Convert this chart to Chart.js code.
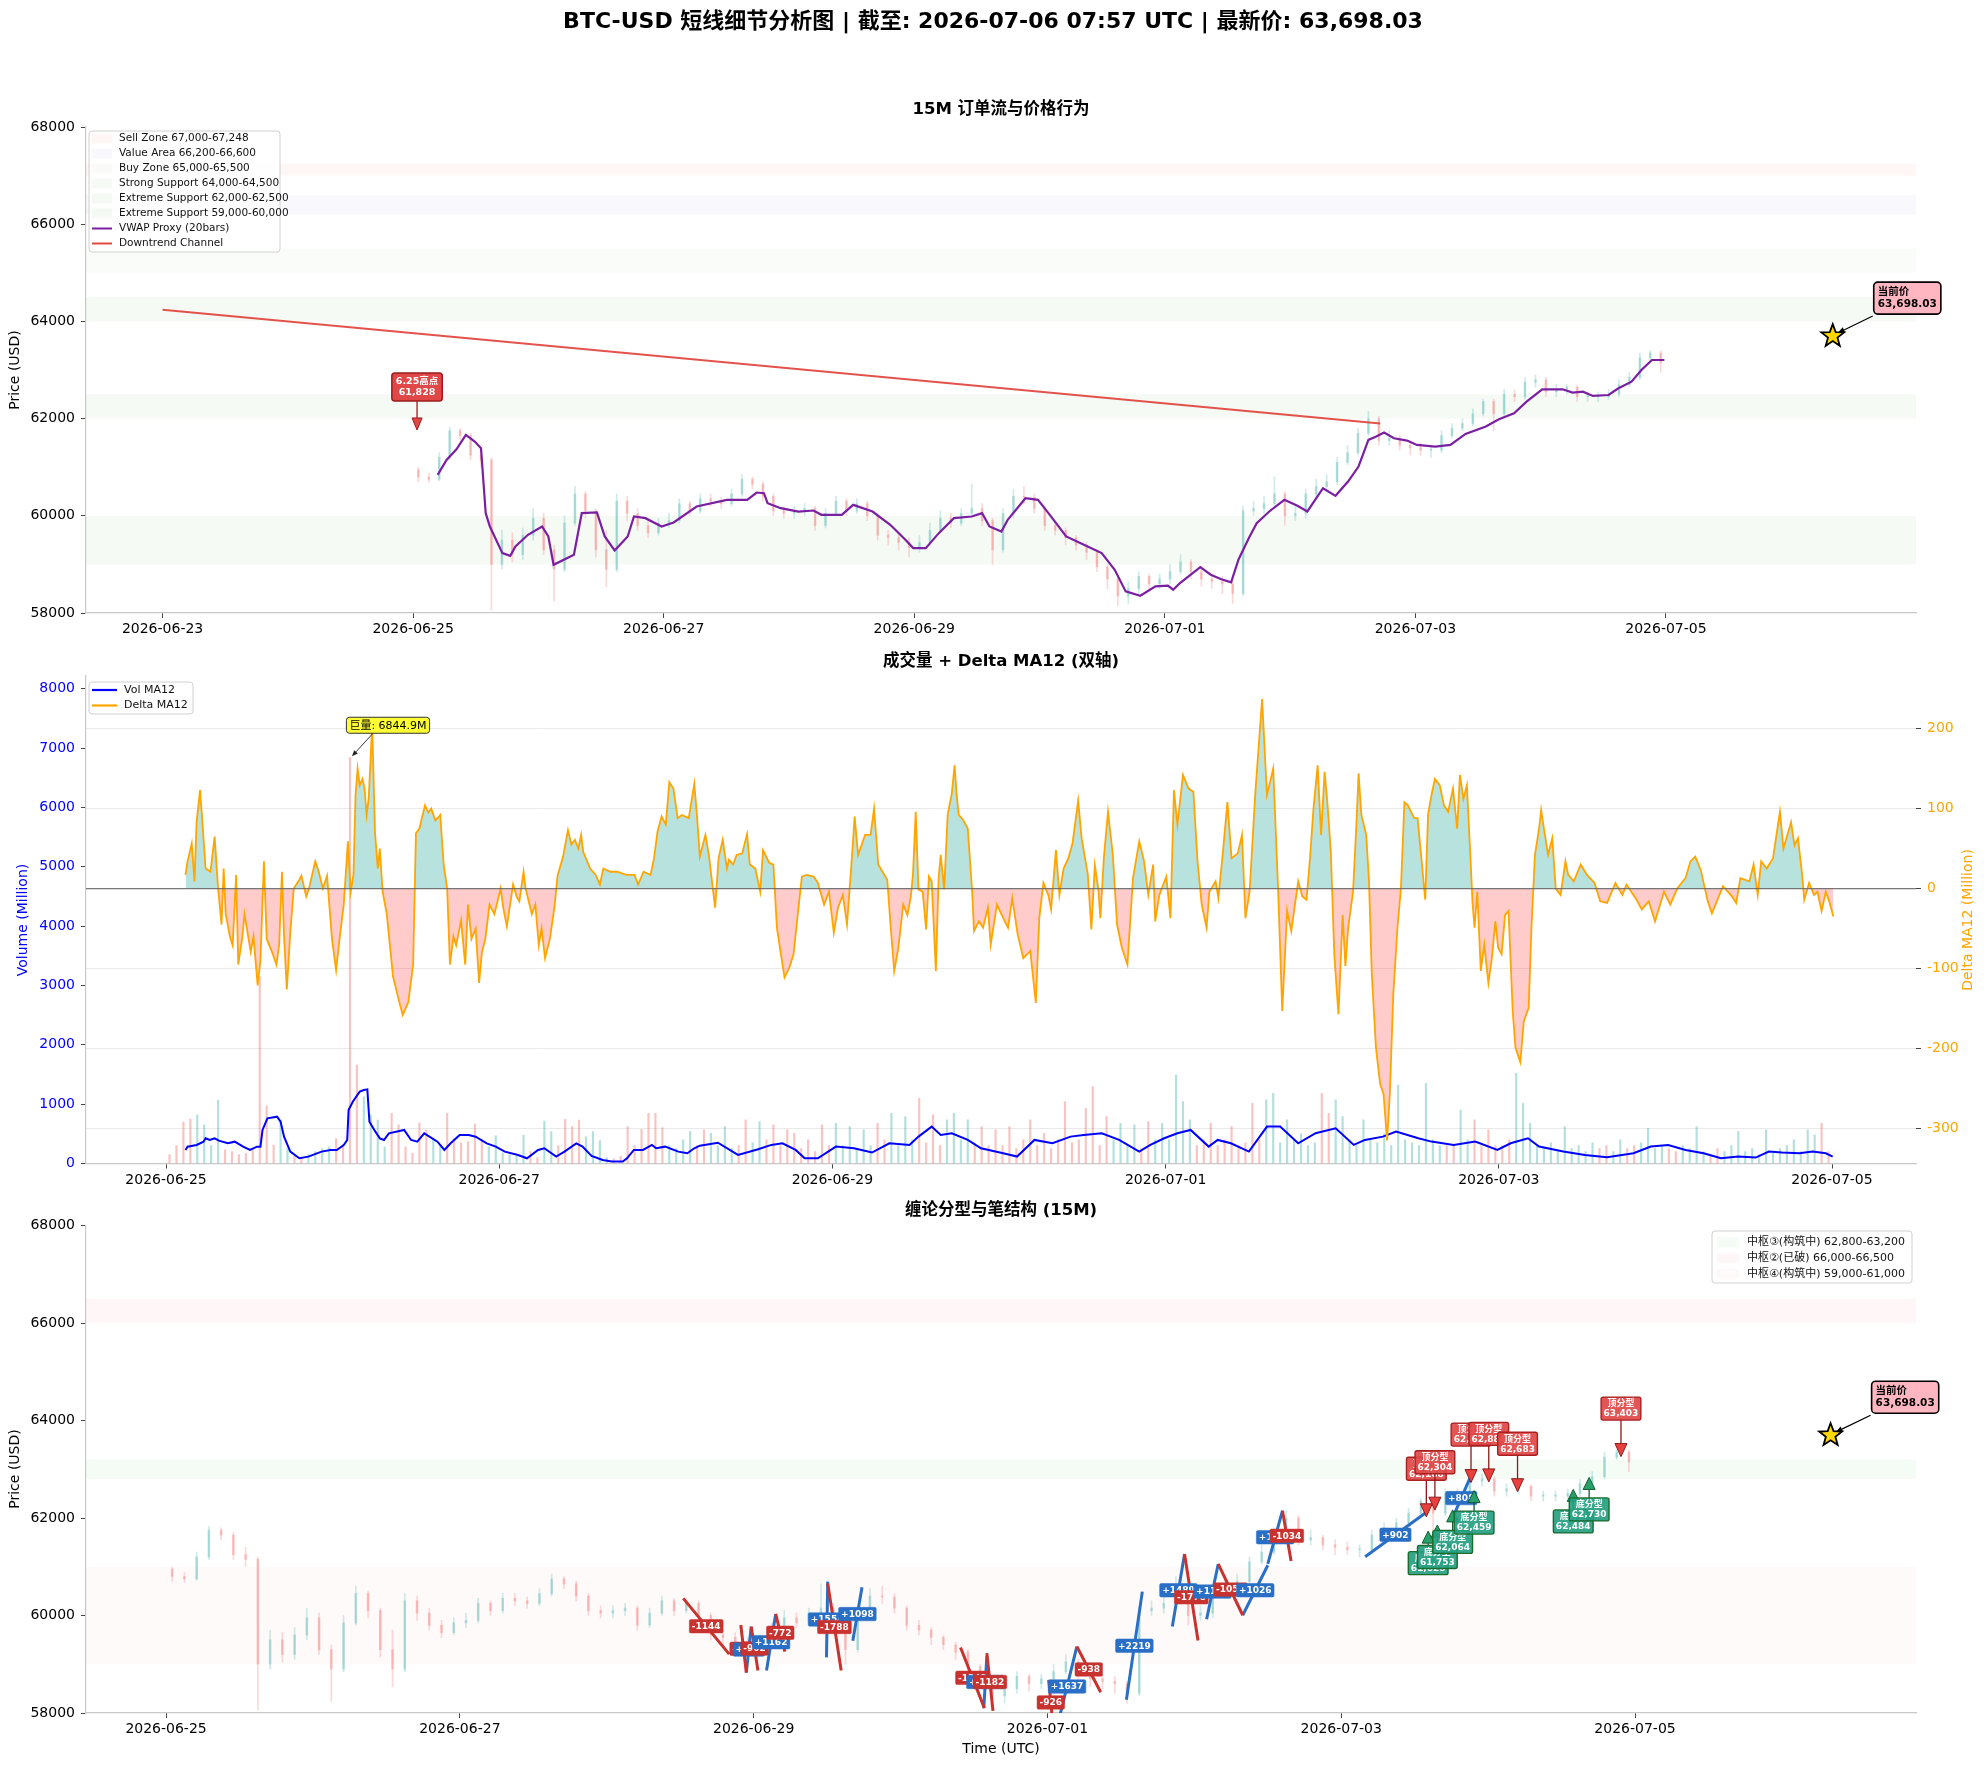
<!DOCTYPE html>
<html><head><meta charset="utf-8">
<script src="https://cdn.jsdelivr.net/npm/chart.js@4.4.1/dist/chart.umd.min.js"></script>
<style>
html,body{margin:0;padding:0;background:#fff;}
#wrap{position:relative;width:1987px;height:1767px;background:#fff;}
canvas{position:absolute;left:0;top:0;}
</style></head><body><div id="wrap">
<canvas id="c1" width="1987" height="1767"></canvas>
<canvas id="c2" width="1987" height="1767"></canvas>
<canvas id="c3" width="1987" height="1767"></canvas>
</div>
<script>
// ===================== DATA (x = hours since 2026-06-25 00:00 UTC) =====================
const mainTitle = 'BTC-USD 短线细节分析图 | 截至: 2026-07-06 07:57 UTC | 最新价: 63,698.03';
const panelTitles = ['15M 订单流与价格行为', '成交量 + Delta MA12 (双轴)', '缠论分型与笔结构 (15M)'];

const dateTickHours1 = [-48, 0, 48, 96, 144, 192, 240];
const dateTickLabels1 = ['2026-06-23','2026-06-25','2026-06-27','2026-06-29','2026-07-01','2026-07-03','2026-07-05'];
const dateTickHours2 = [0, 48, 96, 144, 192, 240];
const dateTickLabels2 = ['2026-06-25','2026-06-27','2026-06-29','2026-07-01','2026-07-03','2026-07-05'];
const priceTicks = [58000, 60000, 62000, 64000, 66000, 68000];
const volTicks = [0, 1000, 2000, 3000, 4000, 5000, 6000, 7000, 8000];
const deltaTicks = [-300, -200, -100, 0, 100, 200];

// 2-hour candles (bar i covers hours 2i..2i+2); open = previous close
const firstOpen = 60950;
const candleClose = [60800,60750,61200,61750,61650,61250,61150,59000,59500,59200,
 59600,59950,59300,58900,59850,60450,60100,59300,58900,60300,
 60050,59800,59650,59850,59900,60250,60100,60350,60300,60250,
 60450,60750,60650,60400,60100,60050,60100,60150,59800,60050,
 60300,60100,60250,60000,59600,59550,59450,59350,59450,59700,
 59950,59850,60050,60150,59900,59300,60050,60400,60380,60150,
 59800,59700,59550,59400,59250,58950,58700,58350,58500,58750,
 58600,58700,58850,59050,58850,58700,58650,58600,58400,60100,
 60150,60250,60450,60000,60050,60450,60600,60700,61100,61300,
 61700,62000,61550,61600,61450,61400,61350,61350,61650,61800,
 61900,62100,62350,62100,62500,62450,62750,62800,62550,62600,
 62650,62450,62450,62450,62500,62700,62850,63250,63350,63150];
const candleHigh = [61000,60880,61300,61828,61800,61700,61400,61200,59700,59650,
 59750,60150,60050,59400,60000,60600,60500,60150,59700,60450,
 60400,60150,59900,59950,60050,60350,60300,60450,60450,60380,
 60550,60850,60800,60700,60450,60200,60200,60250,60200,60150,
 60400,60350,60353,60300,60050,59700,59650,59550,59600,59850,
 60100,60050,60150,60650,60250,59950,60150,60550,60600,60450,
 60200,59900,59750,59600,59450,59300,59000,58750,58650,58850,
 58800,58800,59000,59200,59100,58900,58800,58750,58650,60200,
 60300,60400,60800,60500,60200,60550,60750,60850,61200,61450,
 61800,62150,62050,61750,61650,61550,61500,61450,61750,61900,
 62000,62200,62400,62400,62600,62600,62850,62900,62850,62700,
 62700,62680,62550,62550,62600,62800,62950,63350,63403,63400];
const candleLow = [60700,60680,60720,61150,61550,61150,61000,58060,58900,59050,
 59100,59500,59200,58240,58850,59800,59950,59150,58540,58850,
 59900,59700,59550,59600,59750,59850,60000,60050,60200,60150,
 60200,60400,60550,60300,60000,59950,59950,60000,59700,59750,
 60000,60000,60050,59900,59500,59400,59300,59150,59250,59400,
 59650,59750,59800,60000,59800,59000,59250,59950,60250,60050,
 59700,59600,59400,59300,59100,58850,58500,58150,58200,58400,
 58450,58500,58600,58800,58700,58550,58500,58400,58200,58350,
 60000,60050,60200,59800,59900,59950,60350,60500,60650,61050,
 61250,61650,61450,61450,61350,61250,61250,61200,61300,61600,
 61750,61850,62050,61750,62050,62350,62400,62650,62450,62450,
 62500,62350,62350,62350,62400,62450,62650,62800,63200,62950];

// VWAP proxy (20 bars)
const vwapHours = [4.7,6.4,8.3,10.1,11.8,13.0,13.9,14.7,17.1,18.6,19.6,22.0,24.7,25.9,26.9,30.8,32.3,35.2,36.7,38.6,41.1,42.3,44.5,47.6,49.9,54.3,60.1,64.0,65.8,67.2,67.9,70.4,73.8,76.7,78.2,82.1,84.3,88.0,91.4,94.3,95.8,98.2,100.7,103.6,107.0,109.0,110.4,112.7,113.9,117.3,119.7,121.7,125.1,128.5,131.9,134.4,136.5,139.3,142.2,144.6,145.6,146.9,150.8,152.8,154.7,156.7,158.1,160.1,161.6,164.0,166.9,169.4,171.3,174.3,176.7,179.1,181.1,183.0,184.5,186.0,187.9,190.4,192.3,195.8,198.7,201.6,205.5,208.0,210.9,213.3,216.3,220.2,222.1,224.1,226.0,229.0,230.9,233.4,235.3,237.3,239.7];
const vwapValues = [60842,61150,61369,61664,61527,61390,60054,59780,59232,59177,59369,59609,59780,59575,58992,59198,60054,60068,59575,59287,59575,59986,59951,59780,59862,60191,60328,60328,60479,60465,60260,60157,60088,60109,60020,60020,60225,60088,59814,59506,59335,59335,59643,59951,59986,60054,59780,59677,59917,60362,60328,60054,59575,59403,59232,58890,58444,58355,58547,58561,58479,58616,58945,58787,58698,58630,59096,59541,59849,60089,60328,60205,60089,60568,60411,60705,61014,61562,61630,61712,61596,61548,61459,61425,61459,61685,61836,61986,62110,62349,62603,62603,62534,62555,62466,62486,62623,62760,63000,63206,63206];

// Downtrend channel
const channelHours = [-48, 185.25];
const channelValues = [64240, 61900];

// Zones panel 1
const zone1Labels = ['Sell Zone 67,000-67,248','Value Area 66,200-66,600','Buy Zone 65,000-65,500','Strong Support 64,000-64,500','Extreme Support 62,000-62,500','Extreme Support 59,000-60,000'];
const zone1Lo = [67000, 66200, 65000, 64000, 62000, 59000];
const zone1Hi = [67248, 66600, 65500, 64500, 62500, 60000];

// Annotations
const highLabelHour = 0.75, highLabelPrice = 61828, highLabelText = ['6.25高点', '61,828'];
const nowHour = 271.95, lastPrice = 63698.03, nowText = ['当前价', '63,698.03'];
const bigVolHour = 26.5, bigVolValue = 6844.9, bigVolText = '巨量: 6844.9M';

// Hourly volume (Million), bar i covers hour i..i+1
const volume = [
 150,300,700,750,820,650,300,1070,230,200,150,170,230,3150,970,310,730,250,120,100,150,200,250,280,
 420,320,6845,1660,1125,820,730,280,845,650,280,170,680,565,424,300,845,424,350,368,666,400,280,465,
 180,150,120,480,200,100,716,537,300,744,620,733,450,537,385,100,80,120,620,300,575,845,845,604,
 300,250,400,537,300,566,510,300,622,250,300,734,350,706,400,650,300,566,510,250,397,200,650,300,
 678,300,622,250,566,300,678,400,846,300,790,400,1099,350,818,300,734,846,400,734,350,622,300,566,
 300,622,250,400,734,300,510,250,400,1043,350,400,931,1295,300,790,400,678,300,650,250,706,400,678,
 400,1491,1043,734,300,400,678,300,400,622,300,350,1015,400,1071,1183,350,734,400,500,300,350,1183,846,
 1071,790,400,300,734,400,350,500,300,1323,400,350,300,1351,400,300,300,300,902,400,734,300,566,300,
 300,400,1520,1015,678,300,250,350,200,622,250,300,200,350,250,300,200,400,250,300,350,594,250,300,
 250,200,300,250,622,200,150,250,200,300,538,200,250,150,566,200,250,300,397,200,566,482,678,200];

// Vol MA12
const volMaHours = [2.8,3.1,4.4,5.4,5.7,6.3,7.0,7.6,8.9,9.9,11.1,12.1,13.1,13.6,13.9,14.6,16.0,16.5,17.0,17.9,19.2,20.5,22.4,23.7,24.6,25.6,26.1,26.3,26.9,27.9,28.5,29.0,29.3,30.0,30.8,31.4,32.1,34.3,35.3,36.2,37.2,39.1,40.1,41.0,42.3,43.6,44.6,46.2,47.5,48.8,50.7,52.0,53.6,54.5,56.2,57.4,59.1,60.0,61.3,62.9,64.2,65.8,66.4,67.4,68.7,70.0,70.6,71.9,73.8,75.1,76.1,76.9,79.5,82.4,85.3,87.2,88.8,90.7,92.0,93.9,96.5,99.1,101.7,104.2,107.1,108.4,110.3,111.6,113.2,115.5,117.4,120.6,122.6,125.1,127.7,130.3,132.2,134.8,137.3,140.2,141.8,143.8,145.7,147.6,150.2,151.5,153.4,156.0,158.6,160.5,163.1,165.6,168.5,171.1,172.7,175.3,177.2,180.4,182.3,185.5,188.6,191.8,193.7,196.2,197.8,201.3,204.4,207.6,211.4,213.9,216.4,218.9,221.5,224.0,226.5,229.0,230.9,232.8,235.3,237.2,239.1,240.1];
const volMaValues = [228,284,312,368,424,396,424,385,340,368,284,228,284,284,565,761,789,705,452,200,88,116,200,228,228,312,396,901,1041,1210,1238,1249,705,565,424,396,508,565,396,368,508,368,228,340,480,480,452,340,284,200,144,88,228,256,116,200,340,284,127,60,32,32,88,228,228,312,256,284,200,172,256,300,350,145,241,313,341,229,89,89,285,257,185,341,313,453,622,482,510,397,257,173,117,397,341,453,482,510,397,201,313,425,510,566,285,397,341,201,622,622,341,510,594,313,397,453,538,425,369,313,369,229,341,425,285,201,145,106,173,285,313,229,173,89,117,100,201,185,173,201,173,117];

// Delta MA12
const deltaHours = [2.8,3.1,3.7,4.1,4.4,4.9,5.2,5.7,6.4,7.0,7.5,8.0,8.3,8.6,9.2,9.6,10.1,10.4,11.0,11.3,12.2,12.6,13.2,13.6,14.1,14.5,15.3,15.9,16.3,16.7,17.0,17.4,17.9,18.4,19.2,19.5,20.2,20.6,21.5,22.0,22.6,23.2,23.9,24.5,25.0,25.6,26.2,26.6,27.0,27.3,27.6,27.9,28.3,28.6,28.9,29.2,29.7,30.1,30.5,30.8,31.2,31.8,32.7,33.6,34.1,34.9,35.6,36.0,36.5,37.3,37.8,38.2,38.8,39.5,40.0,40.5,40.9,41.4,41.8,42.5,43.1,43.5,44.0,44.6,45.1,45.5,46.0,46.6,47.3,48.2,48.6,49.1,50.0,50.5,50.9,51.5,51.8,52.7,53.2,53.7,54.1,54.6,55.3,56.0,56.4,57.2,57.9,58.4,58.9,59.4,59.8,60.1,61.1,61.9,62.5,63.0,64.0,65.0,66.3,67.5,68.0,68.8,69.8,70.3,70.8,71.4,72.0,72.5,73.1,73.7,74.3,75.3,76.1,76.5,76.9,77.7,78.2,79.1,79.6,80.2,80.8,81.1,81.7,82.2,83.0,83.7,84.1,84.9,85.6,86.0,86.9,87.5,88.0,88.5,89.1,89.8,90.4,90.9,91.6,92.3,93.3,93.9,94.8,95.5,96.2,96.8,97.5,98.1,98.8,99.2,99.7,100.7,101.5,102.0,102.6,103.9,104.4,104.9,105.5,106.2,106.8,107.3,107.6,108.0,108.4,109.0,109.5,109.9,110.3,110.9,111.3,111.6,112.1,112.6,113.2,113.6,113.9,114.2,114.8,115.5,116.1,116.4,117.1,117.7,118.4,118.8,119.7,120.6,121.3,121.9,122.7,123.5,124.5,125.3,125.8,126.4,127.1,127.5,128.2,128.7,129.3,130.0,130.6,131.4,131.9,132.8,133.3,133.8,134.3,134.6,135.1,135.7,136.4,137.0,137.7,138.5,139.3,140.2,140.9,141.5,142.2,142.5,143.1,144.1,144.7,145.2,145.7,146.5,147.3,148.0,148.6,149.2,149.9,150.3,151.2,151.6,152.3,152.9,153.5,154.4,155.0,155.5,156.1,156.9,157.9,158.6,159.5,160.2,160.8,161.5,162.1,163.1,163.7,164.3,164.8,165.3,165.9,166.4,166.9,167.3,167.8,168.3,168.9,169.5,169.9,170.3,171.0,171.5,171.8,172.2,172.9,173.3,173.7,174.3,174.9,175.4,175.9,176.3,176.8,177.4,177.9,178.4,178.9,179.8,180.3,180.8,181.4,181.8,182.3,182.8,183.5,184.1,184.7,185.4,186.0,186.4,186.9,187.4,187.9,188.2,188.5,188.9,189.4,189.9,190.5,191.0,191.5,191.9,192.4,192.9,193.4,194.0,194.4,195.1,195.6,196.3,196.7,197.2,197.8,198.1,198.5,199.1,199.7,200.2,200.9,201.6,202.0,202.8,203.8,204.7,205.8,206.6,207.6,208.8,209.8,210.4,211.7,212.6,213.6,214.5,215.8,216.7,217.7,218.9,219.6,220.3,221.1,222.1,222.7,224.3,225.6,226.2,226.8,228.1,228.7,229.3,229.8,230.6,231.5,232.5,233.0,234.1,234.6,235.1,235.7,236.0,236.7,237.4,237.9,238.5,239.1,239.6,240.2];
const deltaValues = [17,34,56,9,83,123,88,25,21,65,0,-45,25,-32,-60,-71,17,-95,-60,-32,-79,-60,-121,-90,34,-63,-80,-95,-70,21,-60,-126,-55,0,11,16,-10,0,34,21,0,16,-63,-102,-63,-20,59,-4,17,117,150,129,137,125,92,113,205,71,25,50,-4,-32,-110,-142,-158,-142,-95,69,75,104,95,100,85,92,30,0,-95,-60,-71,-40,-95,-20,-63,-50,-118,-80,-63,-20,-32,0,-25,-47,5,-10,-16,21,0,-32,-20,-71,-50,-87,-63,-20,16,40,73,55,61,50,67,46,25,17,5,25,21,21,17,17,5,21,17,38,71,90,80,133,125,88,92,88,131,90,40,67,42,-24,38,61,25,36,30,42,44,68,30,25,-4,48,32,30,-49,-78,-111,-99,-82,-41,15,17,15,7,-20,-4,-55,-24,-8,-45,38,90,42,67,67,100,30,11,-49,-103,-74,-20,-33,-10,17,96,-1,-4,-51,15,9,-103,13,42,-1,92,119,154,117,92,86,75,0,-53,-41,-49,-24,-70,-20,-37,-49,-12,-58,-87,-78,-143,-37,7,-8,-26,48,-8,25,38,57,110,63,17,-51,29,0,-37,38,96,42,-45,-74,-95,13,59,34,-8,30,-41,-8,15,-37,123,80,142,125,121,34,-20,-49,-4,9,-12,50,108,38,44,67,-37,-4,117,237,117,150,0,-153,-28,-53,9,-10,-14,38,100,154,67,146,108,46,-83,-157,-33,-97,-49,-4,83,144,92,67,9,-107,-199,-244,-257,-315,-257,-132,-49,0,108,104,88,88,42,-14,92,117,137,129,104,96,125,75,142,112,129,42,-16,-49,-4,-103,-70,-118,-87,-41,-74,-82,-33,-28,-153,-199,-217,-166,-149,-49,42,75,98,75,42,63,0,-8,34,17,9,30,17,7,-16,-18,7,-8,5,-12,-26,-16,-41,-4,-20,0,13,34,40,23,-16,-31,3,-10,-18,13,9,30,-8,34,25,38,96,50,83,54,63,17,-14,7,-8,-4,-28,-4,-16,-35];

// Zones panel 3 (中枢)
const zone3Labels = ['中枢③(构筑中) 62,800-63,200','中枢②(已破) 66,000-66,500','中枢④(构筑中) 59,000-61,000'];
const zone3Lo = [62800, 66000, 59000];
const zone3Hi = [63200, 66500, 61000];

// Pens (笔)
const penStartHour = [84.5,93.9,94.8,95.6,98.1,99.6,107.9,108.1,112.2,129.8,133.6,134.1,144.2,145.6,148.8,156.9,164.4,166.4,170.0,171.9,175.9,180.0,182.4,195.9,210.2];
const penStartPrice = [60352,59806,58829,59772,58870,60032,59141,60659,59480,59343,58100,59227,58680,57726,59363,58271,59773,61262,59923,61057,60005,61057,62151,61206,62004];
const penEndHour = [92.0,94.8,95.6,96.7,99.6,101.1,108.1,110.3,113.7,133.7,134.1,135.1,144.9,148.8,152.7,159.5,166.4,168.6,171.9,175.9,180.0,182.4,183.8,205.8,213.0];
const penEndPrice = [59208,58829,59772,58870,60032,59260,60695,58871,60578,58100,59172,58045,57754,59363,58425,60490,61262,59486,61057,60005,61031,62151,61117,62108,62812];
const penLabels = ['-1144','-977','+943','-902','+1162','-772','+1554','-1788','+1098','-1243','+1072','-1182','-926','+1637','-938','+2219','+1489','-1776','+1134','-1052','+1026','+1094','-1034','+902','+808'];

// Fractals (分型)
const topFracHours = [205.9, 207.3, 213.2, 216.1, 220.8, 237.7];
const topFracPrices = [62168, 62304, 62870, 62884, 62683, 63403];
const botFracHours = [206.2, 207.7, 210.2, 213.7, 229.9, 232.5];
const botFracPrices = [61628, 61753, 62064, 62459, 62484, 62730];

// ===================== STYLE =====================
const FONT = '"DejaVu Sans","Noto Sans CJK SC",sans-serif';
const fnt = (s, b) => (b ? 'bold ' : '') + s + 'px ' + FONT;
const W = 1987, H = 1767, LEFT = 86, RIGHT = 1916;
const UP = 'rgba(38,166,154,0.28)', DN = 'rgba(239,83,80,0.28)';
const UPW = 'rgba(38,166,154,0.22)', DNW = 'rgba(239,83,80,0.22)';
const zone1Colors = ['rgba(255,0,0,0.035)','rgba(60,60,200,0.03)','rgba(0,90,0,0.018)','rgba(0,140,0,0.04)','rgba(0,140,0,0.04)','rgba(0,140,0,0.04)'];
const zone3Colors = ['rgba(0,150,0,0.04)','rgba(255,40,40,0.04)','rgba(255,40,40,0.025)'];

function opens() { return candleClose.map((c, i) => i ? candleClose[i - 1] : firstOpen); }
const candleOpen = opens();
const candleUp = candleClose.map((c, i) => c >= candleOpen[i]);
function wickData() { return candleClose.map((c, i) => ({x: 2 * i + 1, y: [candleLow[i], candleHigh[i]]})); }
function bodyData() { return candleClose.map((c, i) => ({x: 2 * i + 1, y: [candleOpen[i], c === candleOpen[i] ? c + 20 : c]})); }
const pts = (xs, ys) => xs.map((x, i) => ({x, y: ys[i]}));

function rr(ctx, x, y, w, h, r) { ctx.beginPath(); ctx.moveTo(x + r, y); ctx.arcTo(x + w, y, x + w, y + h, r); ctx.arcTo(x + w, y + h, x, y + h, r); ctx.arcTo(x, y + h, x, y, r); ctx.arcTo(x, y, x + w, y, r); ctx.closePath(); }
function labelBox(ctx, cx, cy, lines, o) {
  ctx.save(); ctx.font = o.font; let w = 0;
  lines.forEach(l => w = Math.max(w, ctx.measureText(l).width));
  const bw = w + 2 * o.padX, bh = lines.length * o.lineH + 2 * o.padY;
  const x = o.left !== undefined ? o.left : cx - bw / 2, y = o.top !== undefined ? o.top : cy - bh / 2;
  rr(ctx, x, y, bw, bh, o.radius || 2); ctx.fillStyle = o.bg; ctx.fill();
  if (o.border) { ctx.lineWidth = o.bw || 1; ctx.strokeStyle = o.border; ctx.stroke(); }
  ctx.fillStyle = o.color; ctx.textBaseline = 'middle';
  ctx.textAlign = o.align || 'center';
  lines.forEach((l, i) => ctx.fillText(l, o.align === 'left' ? x + o.padX : x + bw / 2, y + o.padY + o.lineH * (i + 0.5) + 0.5));
  ctx.restore(); return {x, y, w: bw, h: bh};
}
function arrow(ctx, x1, y1, x2, y2, o) {
  const a = Math.atan2(y2 - y1, x2 - x1), hl = o.headLen, hw = o.headW / 2;
  const bx = x2 - hl * Math.cos(a), by = y2 - hl * Math.sin(a);
  ctx.save(); ctx.strokeStyle = o.color; ctx.lineWidth = o.lw;
  ctx.beginPath(); ctx.moveTo(x1, y1); ctx.lineTo(bx, by); ctx.stroke();
  ctx.beginPath(); ctx.moveTo(x2, y2);
  ctx.lineTo(bx + hw * Math.sin(a), by - hw * Math.cos(a)); ctx.lineTo(bx - hw * Math.sin(a), by + hw * Math.cos(a)); ctx.closePath();
  ctx.fillStyle = o.fill; ctx.fill();
  if (o.edge) { ctx.strokeStyle = o.edge; ctx.lineWidth = o.elw || 1; ctx.stroke(); }
  ctx.restore();
}
function starPath(ctx, x, y, R, r) { ctx.beginPath(); for (let i = 0; i < 10; i++) { const a = -Math.PI / 2 + i * Math.PI / 5, d = i % 2 ? r : R; ctx.lineTo(x + d * Math.cos(a), y + d * Math.sin(a)); } ctx.closePath(); }
function vtext(ctx, t, x, y, color, size) { ctx.save(); ctx.translate(x, y); ctx.rotate(-Math.PI / 2); ctx.fillStyle = color; ctx.font = fnt(size); ctx.textAlign = 'center'; ctx.textBaseline = 'middle'; ctx.fillText(t, 0, 0); ctx.restore(); }
function ctext(ctx, t, x, y, size, bold, color) { ctx.save(); ctx.font = fnt(size, bold); ctx.fillStyle = color || '#000'; ctx.textAlign = 'center'; ctx.textBaseline = 'middle'; ctx.fillText(t, x, y); ctx.restore(); }
function bands(chart, los, his, colors) {
  const {ctx, chartArea: a, scales: {y}} = chart; ctx.save();
  ctx.beginPath(); ctx.rect(a.left, a.top, a.right - a.left, a.bottom - a.top); ctx.clip();
  los.forEach((lo, i) => { const yt = y.getPixelForValue(his[i]), yb = y.getPixelForValue(lo); ctx.fillStyle = colors[i]; ctx.fillRect(a.left, yt, a.right - a.left, yb - yt); });
  ctx.restore();
}
function currentPrice(chart) {
  const {ctx, scales: {x, y}} = chart;
  const sx = x.getPixelForValue(nowHour), sy = y.getPixelForValue(lastPrice);
  arrow(ctx, sx + 40, sy - 20, sx + 5, sy - 3, {color: '#000', lw: 1.2, headLen: 7, headW: 6, fill: '#000'});
  labelBox(ctx, 0, 0, nowText, {font: fnt(10.5, true), padX: 4, padY: 4, lineH: 12, bg: '#ffb6c1', border: '#000', bw: 1.6, color: '#000', align: 'left', left: sx + 41, top: sy - 54, radius: 4});
  ctx.save(); starPath(ctx, sx, sy, 12, 5); ctx.fillStyle = '#FFD700'; ctx.fill(); ctx.lineWidth = 1.8; ctx.strokeStyle = '#000'; ctx.stroke(); ctx.restore();
}
function xScale(min, max, tickHours, tickLabels, h) {
  return {type: 'linear', min, max, offset: false,
    afterFit(s) { s.height = h; },
    afterBuildTicks(s) { s.ticks = tickHours.map(v => ({value: v})); },
    ticks: {autoSkip: false, maxRotation: 0, padding: 3, color: '#000', font: {family: FONT, size: 14},
      callback: v => { const i = tickHours.indexOf(v); return i >= 0 ? tickLabels[i] : ''; }},
    grid: {drawOnChartArea: false, offset: false, tickLength: 5, tickColor: '#444', tickWidth: 1},
    border: {display: true, color: '#c8c8c8', width: 1.2}};
}
function yScale(min, max, ticks, color, pos, width, gridColor) {
  return {type: 'linear', min, max, position: pos,
    afterFit(s) { s.width = width; },
    afterBuildTicks(s) { s.ticks = ticks.map(v => ({value: v})); },
    ticks: {padding: 6, color, font: {family: FONT, size: 14}, callback: v => String(v)},
    grid: {drawOnChartArea: !!gridColor, color: gridColor || 'rgba(0,0,0,0)', tickLength: 5, tickColor: '#444', drawTicks: true},
    border: {display: pos === 'left', color: '#c8c8c8', width: 1.2}};
}
const baseOpts = {responsive: false, maintainAspectRatio: false, animation: false, devicePixelRatio: 1,
  plugins: {legend: {display: false}, tooltip: {enabled: false}}, events: []};
function candleSets() {
  return [
    {type: 'bar', data: wickData(), backgroundColor: candleUp.map(u => u ? UPW : DNW), barThickness: 1, grouped: false, borderWidth: 0, order: 20},
    {type: 'bar', data: bodyData(), backgroundColor: candleUp.map(u => u ? UP : DN), barThickness: 2, grouped: false, borderWidth: 0, order: 19}];
}

// ===================== CHART 1 =====================
const p1Plugin = {id: 'p1',
  beforeDatasetsDraw(chart) { bands(chart, zone1Lo, zone1Hi, zone1Colors); },
  afterDraw(chart) {
    const {ctx, scales: {x, y}} = chart;
    ctext(ctx, mainTitle, 993, 22, 22, true);
    ctext(ctx, panelTitles[0], 1001, 110, 16.5, true);
    vtext(ctx, 'Price (USD)', 15, 370, '#000', 14);
    ctx.save(); rr(ctx, 89, 131, 191, 121, 3); ctx.fillStyle = 'rgba(255,255,255,0.85)'; ctx.fill(); ctx.strokeStyle = '#d0d0d0'; ctx.lineWidth = 1; ctx.stroke();
    ctx.font = fnt(10.5); ctx.textBaseline = 'middle'; ctx.textAlign = 'left';
    const legItems = zone1Labels.concat(['VWAP Proxy (20bars)', 'Downtrend Channel']);
    legItems.forEach((t, i) => {
      const yy = 138.5 + i * 15;
      if (i < 6) { ctx.fillStyle = zone1Colors[i]; ctx.fillRect(92, yy - 5, 20, 10); }
      else { ctx.strokeStyle = i === 6 ? '#7b1fa2' : '#e04a3f'; ctx.lineWidth = 2; ctx.beginPath(); ctx.moveTo(92, yy); ctx.lineTo(112, yy); ctx.stroke(); }
      ctx.fillStyle = '#111'; ctx.fillText(t, 119, yy);
    });
    ctx.restore();
    const hx = x.getPixelForValue(highLabelHour), hy = y.getPixelForValue(highLabelPrice);
    arrow(ctx, hx, hy - 26, hx, hy + 3, {color: '#9b1c1c', lw: 1.3, headLen: 12, headW: 10, fill: '#e04848', edge: '#9b1c1c', elw: 1});
    labelBox(ctx, hx, hy - 40, highLabelText, {font: fnt(9.5, true), padX: 4, padY: 3, lineH: 11, bg: '#e04848', border: '#9b1c1c', bw: 1.5, color: '#fff', radius: 3});
    currentPrice(chart);
  }};
new Chart(document.getElementById('c1'), {
  type: 'line',
  data: {datasets: [
    ...candleSets(),
    {type: 'line', data: pts(vwapHours, vwapValues), borderColor: '#7b1fa2', borderWidth: 2.2, pointRadius: 0, tension: 0, order: 2},
    {type: 'line', data: pts(channelHours, channelValues), borderColor: 'rgba(224,64,56,0.9)', borderWidth: 2, pointRadius: 0, order: 1}]},
  options: {...baseOpts,
    layout: {padding: {top: 127, bottom: H - 613 - 37, left: 0, right: W - RIGHT}},
    scales: {x: xScale(-62.67, 287.9, dateTickHours1, dateTickLabels1, 37), y: yScale(58000, 68000, priceTicks, '#000', 'left', LEFT)}},
  plugins: [p1Plugin]});

// ===================== CHART 2 =====================
const p2Plugin = {id: 'p2',
  afterDatasetsDraw(chart) {
    const {ctx, chartArea: a, scales: {yd}} = chart;
    const y0 = yd.getPixelForValue(0);
    ctx.save(); ctx.strokeStyle = 'rgba(100,100,100,0.85)'; ctx.lineWidth = 1.2; ctx.beginPath(); ctx.moveTo(a.left, y0); ctx.lineTo(a.right, y0); ctx.stroke(); ctx.restore();
  },
  afterDraw(chart) {
    const {ctx, scales: {x, yv}} = chart;
    ctext(ctx, panelTitles[1], 1001, 661.5, 16.5, true);
    vtext(ctx, 'Volume (Million)', 23, 920, '#0000ff', 14);
    vtext(ctx, 'Delta MA12 (Million)', 1968, 920, '#FFA500', 14);
    ctx.save(); rr(ctx, 89, 682, 104, 32, 3); ctx.fillStyle = 'rgba(255,255,255,0.85)'; ctx.fill(); ctx.strokeStyle = '#d0d0d0'; ctx.lineWidth = 1; ctx.stroke();
    ctx.font = fnt(11); ctx.textBaseline = 'middle'; ctx.textAlign = 'left';
    [['Vol MA12', '#0000ff'], ['Delta MA12', '#FFA500']].forEach((e, i) => { const yy = 690 + i * 15.5; ctx.strokeStyle = e[1]; ctx.lineWidth = 2.2; ctx.beginPath(); ctx.moveTo(92, yy); ctx.lineTo(117, yy); ctx.stroke(); ctx.fillStyle = '#111'; ctx.fillText(e[0], 124, yy); });
    ctx.restore();
    const bx = x.getPixelForValue(bigVolHour), by = yv.getPixelForValue(bigVolValue);
    arrow(ctx, bx + 23, by - 24, bx + 2, by - 1, {color: '#222', lw: 0.9, headLen: 6, headW: 5, fill: '#222'});
    labelBox(ctx, bx + 38, by - 32, [bigVolText], {font: fnt(11), padX: 3, padY: 2, lineH: 12, bg: '#ffff33', border: '#333', bw: 1, color: '#000', radius: 3});
  }};
new Chart(document.getElementById('c2'), {
  type: 'line',
  data: {datasets: [
    {type: 'bar', yAxisID: 'yv', data: volume.map((v, i) => ({x: i + 0.5, y: v})), backgroundColor: volume.map((v, i) => candleUp[Math.floor(i / 2)] ? 'rgba(38,166,154,0.35)' : 'rgba(239,83,80,0.35)'), barThickness: 1.5, grouped: false, borderWidth: 0, order: 10},
    {type: 'line', yAxisID: 'yv', data: pts(volMaHours, volMaValues), borderColor: '#0000ff', borderWidth: 2, pointRadius: 0, order: 5},
    {type: 'line', yAxisID: 'yd', data: pts(deltaHours, deltaValues), borderColor: '#FFA500', borderWidth: 1.8, pointRadius: 0, order: 1,
      fill: {target: {value: 0}, above: 'rgba(0,150,136,0.28)', below: 'rgba(255,82,82,0.3)'}}]},
  options: {...baseOpts,
    layout: {padding: {top: 676, bottom: H - 1163.5 - 40, left: 0, right: 0}},
    scales: {x: xScale(-11.53, 252.1, dateTickHours2, dateTickLabels2, 40),
      yv: yScale(0, 8214, volTicks, '#0000ff', 'left', LEFT),
      yd: yScale(-343.7, 265.7, deltaTicks, '#FFA500', 'right', W - RIGHT, '#e9e9e9')}},
  plugins: [p2Plugin]});

// ===================== CHART 3 =====================
const p3Plugin = {id: 'p3',
  beforeDatasetsDraw(chart) { bands(chart, zone3Lo, zone3Hi, zone3Colors); },
  afterDraw(chart) {
    const {ctx, scales: {x, y}} = chart;
    ctext(ctx, panelTitles[2], 1001, 1210.5, 16.5, true);
    vtext(ctx, 'Price (USD)', 15, 1469, '#000', 14);
    ctext(ctx, 'Time (UTC)', 1001, 1749, 14, false);
    ctx.save(); rr(ctx, 1712, 1231, 200, 52, 3); ctx.fillStyle = 'rgba(255,255,255,0.85)'; ctx.fill(); ctx.strokeStyle = '#d0d0d0'; ctx.lineWidth = 1; ctx.stroke();
    ctx.font = fnt(11); ctx.textBaseline = 'middle'; ctx.textAlign = 'left';
    zone3Labels.forEach((t, i) => { const yy = 1242.5 + i * 15.8; ctx.fillStyle = zone3Colors[i]; ctx.fillRect(1717, yy - 5, 22, 10); ctx.fillStyle = '#111'; ctx.fillText(t, 1747, yy); });
    ctx.restore();
    penLabels.forEach((t, i) => {
      const mx = x.getPixelForValue((penStartHour[i] + penEndHour[i]) / 2), my = y.getPixelForValue((penStartPrice[i] + penEndPrice[i]) / 2);
      const up = penEndPrice[i] > penStartPrice[i];
      labelBox(ctx, mx, my, [t], {font: fnt(9, true), padX: 2.5, padY: 1.5, lineH: 10.5, bg: up ? '#2a6fc6' : '#c8322f', color: '#fff', radius: 1.5, border: up ? '#2a6fc6' : '#c8322f', bw: 0.5});
    });
    topFracHours.forEach((h, i) => {
      const fx = x.getPixelForValue(h), fy = y.getPixelForValue(topFracPrices[i]);
      arrow(ctx, fx, fy - 30, fx, fy + 7, {color: '#8b1a1a', lw: 1.3, headLen: 13, headW: 12, fill: '#e8403c', edge: '#8b1a1a', elw: 1});
      labelBox(ctx, fx, fy - 41, ['顶分型', topFracPrices[i].toLocaleString('en-US')], {font: fnt(9, true), padX: 2.5, padY: 1.5, lineH: 10, bg: 'rgba(224,72,72,0.92)', border: '#a82020', bw: 1.4, color: '#fff', radius: 2});
    });
    botFracHours.forEach((h, i) => {
      const fx = x.getPixelForValue(h), fy = y.getPixelForValue(botFracPrices[i]);
      arrow(ctx, fx, fy + 16, fx, fy - 5, {color: '#145a32', lw: 1.3, headLen: 12, headW: 12, fill: '#27a06a', edge: '#145a32', elw: 1});
      labelBox(ctx, fx, fy + 27, ['底分型', botFracPrices[i].toLocaleString('en-US')], {font: fnt(9, true), padX: 2.5, padY: 1.5, lineH: 10, bg: 'rgba(38,160,130,0.92)', border: '#1b6b2e', bw: 1.4, color: '#fff', radius: 2});
    });
    currentPrice(chart);
  }};
function penData(up) {
  const d = [];
  penLabels.forEach((t, i) => { if ((penEndPrice[i] > penStartPrice[i]) === up) { d.push({x: penStartHour[i], y: penStartPrice[i]}, {x: penEndHour[i], y: penEndPrice[i]}, {x: penEndHour[i], y: null}); } });
  return d;
}
new Chart(document.getElementById('c3'), {
  type: 'line',
  data: {datasets: [
    ...candleSets(),
    {type: 'line', data: penData(true), borderColor: '#2a6fc6', borderWidth: 3, pointRadius: 0, spanGaps: false, order: 2},
    {type: 'line', data: penData(false), borderColor: '#c8322f', borderWidth: 3, pointRadius: 0, spanGaps: false, order: 1}]},
  options: {...baseOpts,
    layout: {padding: {top: 1225.5, bottom: H - 1713 - 40, left: 0, right: W - RIGHT}},
    scales: {x: xScale(-13.08, 285.9, dateTickHours2, dateTickLabels2, 40), y: yScale(58000, 68000, priceTicks, '#000', 'left', LEFT)}},
  plugins: [p3Plugin]});
</script></body></html>
